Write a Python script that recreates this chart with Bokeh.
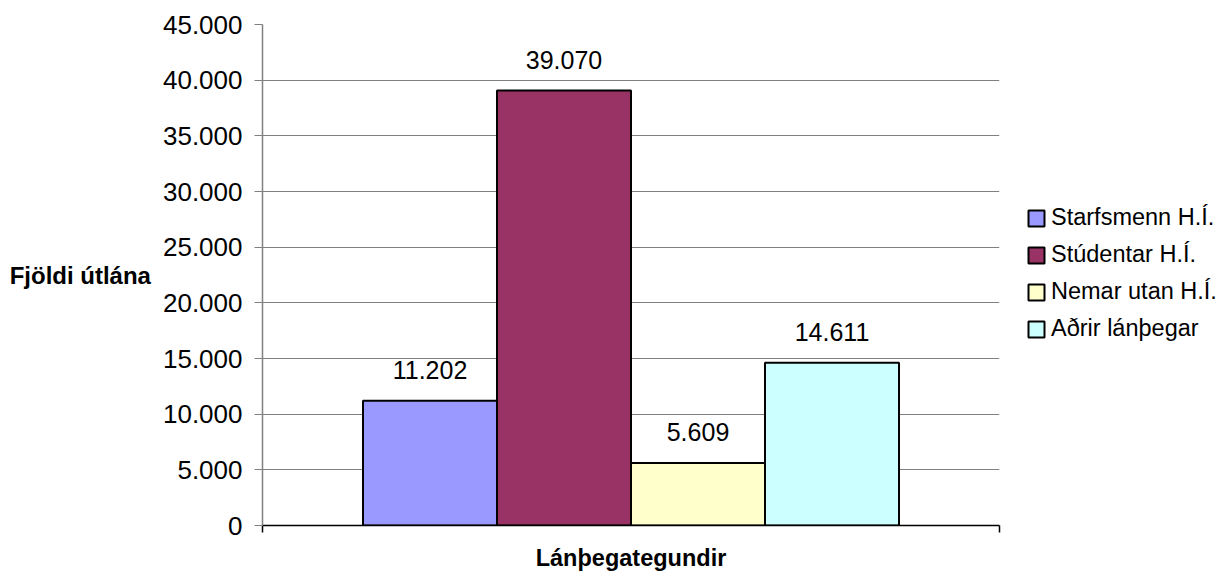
from bokeh.plotting import figure
from bokeh.models import (ColumnDataSource, FixedTicker, CustomJSTickFormatter, Legend,
                          LegendItem, Label, Range1d)
from bokeh.embed import file_html
from bokeh.resources import INLINE

# ---- data ----
categories = ["Starfsmenn H.Í.", "Stúdentar H.Í.", "Nemar utan H.Í.", "Aðrir lánþegar"]
values = [11202, 39070, 5609, 14611]
colors = ["#9999FF", "#993366", "#FFFFCC", "#CCFFFF"]
y_ticks = [0, 5000, 10000, 15000, 20000, 25000, 30000, 35000, 40000, 45000]
y_title = "Fjöldi útlána"
x_title = "Lánþegategundir"

FONT = "Liberation Sans"

# bar positions within the single category group (gap width 150%)
gap = 1.5
n = len(values)
group_width = n + gap
xpos = [gap / 2 + i + 0.5 for i in range(n)]
labels = [f"{v:,}".replace(",", ".") for v in values]

src = ColumnDataSource(dict(x=xpos, top=values, color=colors, name=categories, lab=labels))

p = figure(frame_width=737, frame_height=501, output_backend="svg", toolbar_location=None,
           x_range=Range1d(0, group_width), y_range=Range1d(0, 45000),
           min_border_left=262, min_border_right=224, min_border_top=24, min_border_bottom=50)
p.outline_line_color = None
p.background_fill_color = "white"
p.border_fill_color = "white"

r = p.vbar(x="x", top="top", width=1, bottom=0, source=src, fill_color="color",
           line_color="black", line_width=2)

p.text(x="x", y="top", text="lab", source=src, text_align="center", text_baseline="alphabetic",
       y_offset=-31, text_font_size="25px", text_color="black", text_font={"value": FONT})

# y axis
p.yaxis.ticker = FixedTicker(ticks=y_ticks)
p.yaxis.formatter = CustomJSTickFormatter(
    code="return tick.toFixed(0).replace(/\\B(?=(\\d{3})+(?!\\d))/g, '.');")
p.yaxis.major_label_text_font = FONT
p.yaxis.major_label_text_font_size = "26px"
p.yaxis.major_label_text_color = "black"
p.yaxis.major_label_standoff = 12
p.yaxis.major_tick_out = 8
p.yaxis.major_tick_in = 0
p.yaxis.minor_tick_out = 0
p.yaxis.minor_tick_in = 0
p.yaxis.axis_line_color = "#808080"
p.yaxis.major_tick_line_color = "#808080"
p.yaxis.axis_line_width = 1.5

# y title, horizontal, left of the tick labels
try:
    p.yaxis.axis_label_orientation = "horizontal"
    p.yaxis.axis_label = y_title
    p.yaxis.axis_label_text_font = FONT
    p.yaxis.axis_label_text_font_style = "bold"
    p.yaxis.axis_label_text_font_size = "24px"
    p.yaxis.axis_label_text_color = "black"
    p.yaxis.axis_label_standoff = 9
except Exception:
    p.add_layout(Label(x=82, y=272, x_units="screen", y_units="screen", text=y_title,
                       text_align="center", text_baseline="middle",
                       text_font=FONT, text_font_style="bold", text_font_size="24px",
                       text_color="black"), "left")

# x axis
p.xaxis.ticker = FixedTicker(ticks=[0, group_width])
p.xaxis.major_label_overrides = {0: "", group_width: ""}
p.xaxis.major_label_standoff = 0
p.xaxis.major_tick_out = 7
p.xaxis.major_tick_in = 0
p.xaxis.minor_tick_out = 0
p.xaxis.axis_line_color = "black"
p.xaxis.axis_line_width = 1.5
p.xaxis.major_tick_line_color = "black"
p.xaxis.major_tick_line_width = 1.5
p.xaxis.axis_label = x_title
p.xaxis.axis_label_text_font = FONT
p.xaxis.axis_label_text_font_style = "bold"
p.xaxis.axis_label_text_font_size = "23.5px"
p.xaxis.axis_label_text_color = "black"
p.xaxis.axis_label_standoff = 12

# grid
p.xgrid.grid_line_color = None
p.ygrid.grid_line_color = "#808080"
p.ygrid.grid_line_width = 1

# legend (right panel, vertically centred on the plot area)
items = [LegendItem(label=categories[i], renderers=[r], index=i) for i in range(n)]
legend = Legend(items=items, location=(27, 183), orientation="vertical",
                label_text_font=FONT, label_text_font_size="23.5px", label_text_color="black",
                glyph_width=20, glyph_height=20, label_height=26, label_standoff=5,
                spacing=10, padding=0, margin=0, border_line_alpha=0,
                background_fill_alpha=0)
p.add_layout(legend, "right")

open("out.html", "w").write(file_html(p, INLINE))
